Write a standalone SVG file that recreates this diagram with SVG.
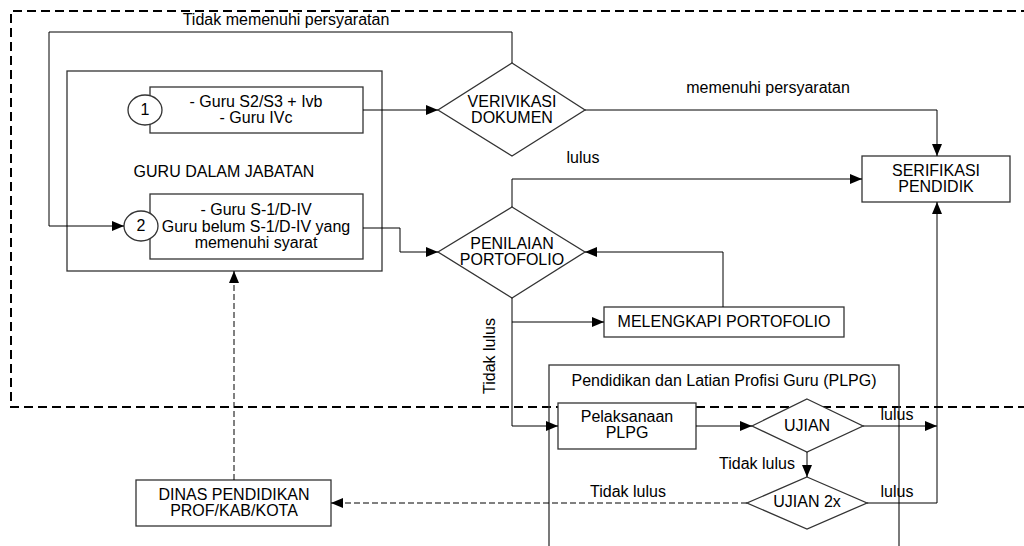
<svg xmlns="http://www.w3.org/2000/svg" width="1024" height="546" viewBox="0 0 1024 546">
<style>
text{font-family:"Liberation Sans",Arial,sans-serif;font-size:16px;fill:#000;text-anchor:middle}
.box{fill:#fff;stroke:#333;stroke-width:1.3}
.frame{fill:none;stroke:#333;stroke-width:1.3}
.ln{fill:none;stroke:#000;stroke-width:1}
.dl{fill:none;stroke:#000;stroke-width:1;stroke-dasharray:6,3}
.outer{fill:none;stroke:#000;stroke-width:2;stroke-dasharray:9,5}
</style>
<defs>
<marker id="ah" markerWidth="12" markerHeight="10" refX="12" refY="5" orient="auto" markerUnits="userSpaceOnUse">
<path d="M0,0 L12,5 L0,10 Z" fill="#000"/>
</marker>
</defs>
<rect width="1024" height="546" fill="#fff"/>
<path class="outer" d="M1030,11 H11 V407 H1030"/>
<text x="286" y="25">Tidak memenuhi persyaratan</text>

<g id="guru-dalam-jabatan">
<rect class="frame" x="67" y="71" width="315" height="200"/>
<text x="224" y="177">GURU DALAM JABATAN</text>
</g>
<g id="box1">
<rect class="box" x="150" y="87" width="213" height="46"/>
<text x="256" y="107">- Guru S2/S3 + Ivb</text>
<text x="256" y="123">- Guru IVc</text>
<ellipse class="box" cx="145" cy="110" rx="17" ry="15"/>
<text x="145" y="115">1</text>
</g>
<g id="box2">
<rect class="box" x="150" y="194" width="213" height="65"/>
<text x="256" y="215">- Guru S-1/D-IV</text>
<text x="256" y="232">Guru belum S-1/D-IV yang</text>
<text x="256" y="248">memenuhi syarat</text>
<ellipse class="box" cx="141" cy="226" rx="17" ry="15"/>
<text x="141" y="231">2</text>
</g>
<g id="verifikasi">
<polygon class="box" points="512,63 585,110 512,156 438,110"/>
<text x="512" y="107">VERIVIKASI</text>
<text x="512" y="123">DOKUMEN</text>
</g>
<g id="penilaian">
<polygon class="box" points="512,207 585,252 512,298 438,252"/>
<text x="512" y="249">PENILAIAN</text>
<text x="512" y="265">PORTOFOLIO</text>
</g>
<g id="serifikasi">
<rect class="box" x="862" y="156" width="148" height="46"/>
<text x="936" y="176">SERIFIKASI</text>
<text x="936" y="192">PENDIDIK</text>
</g>
<g id="melengkapi">
<rect class="box" x="604" y="307" width="240" height="30"/>
<text x="724" y="327">MELENGKAPI PORTOFOLIO</text>
</g>
<g id="plpg">
<rect class="frame" x="549" y="365" width="350" height="190"/>
<text x="724" y="386">Pendidikan dan Latian Profisi Guru (PLPG)</text>
</g>
<g id="pelaksanaan">
<rect class="box" x="558" y="403" width="138" height="46"/>
<text x="627" y="422">Pelaksanaan</text>
<text x="627" y="438">PLPG</text>
</g>
<g id="ujian">
<polygon class="box" points="807,399 863,426 807,452 752,426"/>
<text x="807" y="431">UJIAN</text>
</g>
<g id="ujian2x">
<polygon class="box" points="807,477 867,503 807,529 747,503"/>
<text x="807" y="507">UJIAN 2x</text>
</g>
<g id="dinas">
<rect class="box" x="136" y="480" width="195" height="46"/>
<text x="234" y="500">DINAS PENDIDIKAN</text>
<text x="234" y="516">PROF/KAB/KOTA</text>
</g>

<g id="connectors">
<path class="ln" d="M512,63 V32 H49 V226 H124" marker-end="url(#ah)"/>
<path class="ln" d="M363,110 H438" marker-end="url(#ah)"/>
<path class="ln" d="M363,228 H400 V252 H438" marker-end="url(#ah)"/>
<path class="ln" d="M585,110 H937 V156" marker-end="url(#ah)"/>
<text x="768" y="93">memenuhi persyaratan</text>
<path class="ln" d="M512,207 V179 H862" marker-end="url(#ah)"/>
<text x="583" y="163">lulus</text>
<path class="ln" d="M723,307 V252 H585" marker-end="url(#ah)"/>
<path class="ln" d="M512,298 V322 H604" marker-end="url(#ah)"/>
<path class="ln" d="M512,322 V426 H558" marker-end="url(#ah)"/>
<text transform="translate(495,356) rotate(-90)">Tidak lulus</text>
<path class="ln" d="M696,426 H752" marker-end="url(#ah)"/>
<path class="ln" d="M863,426 H937" marker-end="url(#ah)"/>
<text x="897" y="420">lulus</text>
<path class="ln" d="M807,452 V477" marker-end="url(#ah)"/>
<text x="757" y="469">Tidak lulus</text>
<path class="ln" d="M867,503 H937 V202" marker-end="url(#ah)"/>
<text x="897" y="497">lulus</text>
<path class="dl" d="M747,503 H331" marker-end="url(#ah)"/>
<text x="628" y="497">Tidak lulus</text>
<path class="dl" d="M234,480 V271" marker-end="url(#ah)"/>
</g>
</svg>
